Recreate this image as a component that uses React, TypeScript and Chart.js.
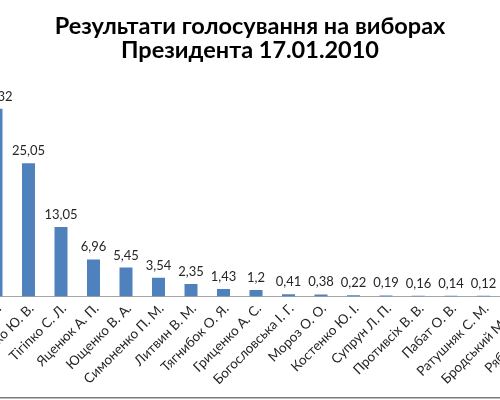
import React, { useEffect, useRef } from 'react';
import { Chart, registerables } from 'chart.js';

Chart.register(...registerables);

const categories = [
  'Янукович В. Ф.',
  'Тимошенко Ю. В.',
  'Тігіпко С. Л.',
  'Яценюк А. П.',
  'Ющенко В. А.',
  'Симоненко П. М.',
  'Литвин В. М.',
  'Тягнибок О. Я.',
  'Гриценко А. С.',
  'Богословська І. Г.',
  'Мороз О. О.',
  'Костенко Ю. І.',
  'Супрун Л. П.',
  'Противсіх В. В.',
  'Пабат О. В.',
  'Ратушняк С. М.',
  'Бродський М. Ю.',
  'Рябоконь О. В.',
];

const values = [35.32, 25.05, 13.05, 6.96, 5.45, 3.54, 2.35, 1.43, 1.2, 0.41, 0.38, 0.22, 0.19, 0.16, 0.14, 0.12, 0.06, 0.03];

const titleLines = ['Результати голосування на виборах', 'Президента 17.01.2010'];

const CANVAS_W = 660;
const CANVAS_H = 400;
const OFFSET_X = 80;

const valueLabels = {
  id: 'valueLabels',
  afterDatasetsDraw(chart: any) {
    const ctx = chart.ctx;
    const meta = chart.getDatasetMeta(0);
    const data = chart.data.datasets[0].data as number[];
    ctx.save();
    ctx.font = '13px Lato';
    ctx.fillStyle = '#262626';
    ctx.textAlign = 'center';
    ctx.textBaseline = 'alphabetic';
    meta.data.forEach((bar: any, i: number) => {
      ctx.fillText(String(data[i]).replace('.', ','), bar.x, bar.y - 8);
    });
    ctx.restore();
  },
};

const frameLine = {
  id: 'frameLine',
  afterDraw(chart: any) {
    const ctx = chart.ctx;
    ctx.save();
    ctx.fillStyle = '#7a7a7a';
    ctx.fillRect(0, 397, chart.width, 1.5);
    ctx.restore();
  },
};

export default function App() {
  const ref = useRef<HTMLCanvasElement | null>(null);

  useEffect(() => {
    if (!ref.current) return;
    const chart = new Chart(ref.current, {
      type: 'bar',
      data: {
        labels: categories,
        datasets: [
          {
            data: values,
            backgroundColor: '#4F81BD',
            borderWidth: 0,
            categoryPercentage: 1,
            barPercentage: 0.4,
          },
        ],
      },
      options: {
        responsive: false,
        animation: false,
        devicePixelRatio: 1,
        layout: { padding: 0 },
        plugins: {
          legend: { display: false },
          tooltip: { enabled: false },
          title: {
            display: true,
            text: titleLines,
            color: '#000',
            font: { family: 'Lato', size: 23.5, weight: 'bold', lineHeight: 1.06 },
            padding: { top: 13.5, bottom: 20.5 },
          },
        },
        scales: {
          x: {
            grid: { display: false, drawTicks: false },
            border: { display: true, color: '#a6a6a6', width: 1 },
            ticks: {
              autoSkip: false,
              minRotation: 45,
              maxRotation: 45,
              padding: 4,
              labelOffset: 3,
              color: '#262626',
              font: { family: 'Lato', size: 13.5 },
            },
            afterFit(scale: any) {
              scale.paddingLeft = 59.75;
              scale.paddingRight = 15.25;
              scale.height = 103.5;
            },
          },
          y: {
            display: false,
            min: 0,
            max: 40,
          },
        },
      },
      plugins: [valueLabels, frameLine],
    });
    return () => chart.destroy();
  }, []);

  return (
    <div
      style={{
        position: 'fixed',
        left: 0,
        top: 0,
        width: 500,
        height: 400,
        overflow: 'hidden',
        background: '#fff',
      }}
    >
      <div style={{ position: 'absolute', left: -OFFSET_X, top: 0, width: CANVAS_W, height: CANVAS_H }}>
        <canvas ref={ref} width={CANVAS_W} height={CANVAS_H} style={{ display: 'block' }} />
      </div>
    </div>
  );
}
